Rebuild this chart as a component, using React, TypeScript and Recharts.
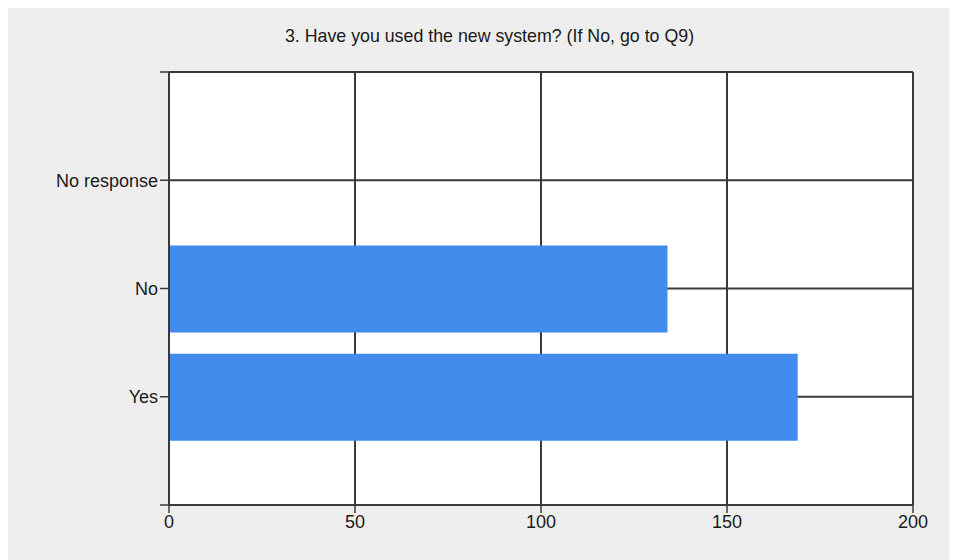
import React from "react";
import { BarChart, Bar, XAxis, YAxis, CartesianGrid } from "recharts";

// categories from the bottom up, placed at 1, 2, 3 on a 0..4 axis
const categories = ["Yes", "No", "No response"];
const positions = [1, 2, 3];
const counts = [169, 134, 0];
const xTicks = [0, 50, 100, 150, 200];
const yTicks = [0, 1, 2, 3, 4];

const title = "3. Have you used the new system? (If No, go to Q9)";

const data = categories.map((name, i) => ({ name, pos: positions[i], value: counts[i] }));

const FONT = "'Liberation Sans', Arial, sans-serif";
const LINE = "#3a3a3a";

export default function App() {
  return (
    <div
      style={{
        position: "relative",
        width: 949,
        height: 554,
        marginTop: -2,
        background: "#eeeeee",
        fontFamily: FONT,
      }}
    >
      <div
        style={{
          position: "absolute",
          top: 20,
          left: 0,
          width: 963,
          textAlign: "center",
          fontSize: 17.8,
          color: "#1a1a1a",
        }}
      >
        {title}
      </div>
      <BarChart
        width={949}
        height={554}
        data={data}
        layout="vertical"
        margin={{ top: 66, right: 44, bottom: 15, left: 0 }}
        style={{ position: "relative" }}
      >
        <CartesianGrid stroke={LINE} strokeWidth={2} fill="#ffffff" fillOpacity={1} />
        <XAxis
          type="number"
          domain={[0, 200]}
          ticks={xTicks}
          interval={0}
          height={40}
          axisLine={{ stroke: LINE, strokeWidth: 2 }}
          tickLine={{ stroke: LINE, strokeWidth: 1.5 }}
          tickSize={8}
          tick={{ fill: "#1a1a1a", fontSize: 18, fontFamily: FONT }}
        />
        <YAxis
          type="number"
          dataKey="pos"
          domain={[0, 4]}
          ticks={yTicks}
          interval={0}
          reversed
          width={161}
          axisLine={{ stroke: LINE, strokeWidth: 2 }}
          tickLine={{ stroke: LINE, strokeWidth: 1.5 }}
          tickSize={9}
          tickFormatter={(v: number) => categories[positions.indexOf(v)] ?? ""}
          tick={{ fill: "#1a1a1a", fontSize: 18, fontFamily: FONT }}
        />
        <Bar dataKey="value" fill="#428cee" barSize={87} isAnimationActive={false} />
      </BarChart>
    </div>
  );
}
